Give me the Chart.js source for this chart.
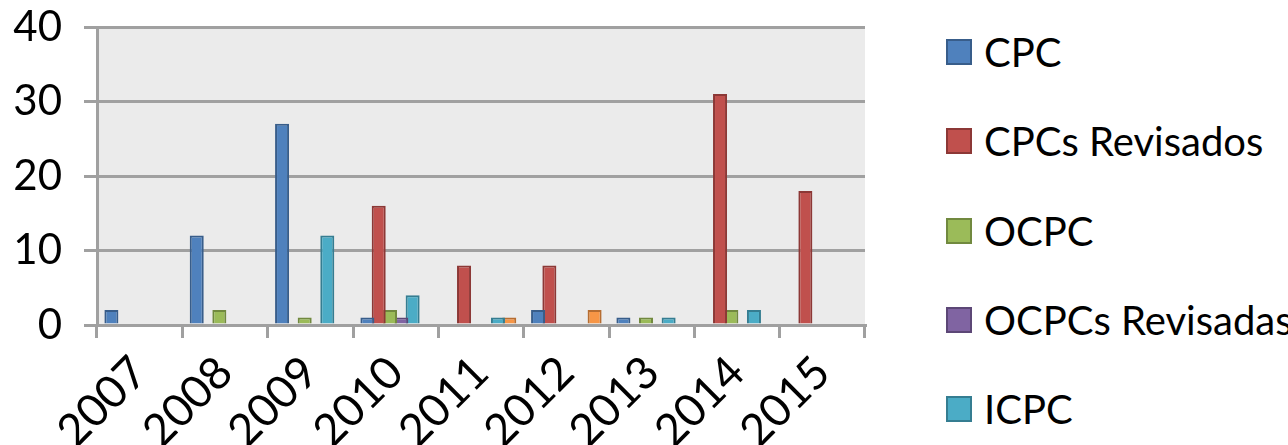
<!DOCTYPE html>
<html>
<head>
<meta charset="utf-8">
<script src="https://cdn.jsdelivr.net/npm/chart.js@4"></script>
<style>
  html, body { margin: 0; padding: 0; background: #fff; }
  #wrap { position: relative; width: 1288px; height: 445px; overflow: hidden; }
  #chartBox { position: absolute; left: 0; top: 0; width: 880px; height: 445px; }
  #legend { position: absolute; left: 946px; top: 0; font-family: Lato, sans-serif; font-size: 40px; color: #000; }
  .item { position: absolute; left: 0; display: flex; align-items: center; white-space: nowrap; height: 50px; }
  .box { width: 22px; height: 22px; border: 2px solid; margin-right: 12px; }
</style>
</head>
<body>
<div id="wrap">
  <div id="chartBox"><canvas id="mainChart"></canvas></div>
  <div id="legend"></div>
</div>
<script>
// categorias (anos) e séries
const years = ["2007", "2008", "2009", "2010", "2011", "2012", "2013", "2014", "2015"];
const cpc = [2, 12, 27, 1, 0, 2, 1, 0, 0];
const cpcsRevisados = [0, 0, 0, 16, 8, 8, 0, 31, 18];
const ocpc = [0, 2, 1, 2, 0, 0, 1, 2, 0];
const ocpcsRevisadas = [0, 0, 0, 1, 0, 0, 0, 0, 0];
const icpc = [0, 0, 12, 4, 1, 0, 1, 2, 0];
// sexta série (laranja) - a legenda dela está cortada na imagem original
const outros = [0, 0, 0, 0, 1, 2, 0, 0, 0];
const yTicks = [0, 10, 20, 30, 40];

const FONT = "Lato, sans-serif";

function ds(label, data, fill, border, inLegend) {
  return {
    label: label,
    data: data,
    backgroundColor: fill,
    borderColor: border,
    borderWidth: 2,
    categoryPercentage: 0.795,
    barPercentage: 1.24,
    inLegend: inLegend,
  };
}

const datasets = [
  ds("CPC", cpc, "#4F81BD", "#385D8A", true),
  ds("CPCs Revisados", cpcsRevisados, "#C0504D", "#8C3836", true),
  ds("OCPC", ocpc, "#9BBB59", "#71893F", true),
  ds("OCPCs Revisadas", ocpcsRevisadas, "#8064A2", "#5C4776", true),
  ds("ICPC", icpc, "#4BACC6", "#357D91", true),
  ds("Outros", outros, "#F79646", "#B66D31", false),
];

// fundo cinza da área de plotagem
const plotBg = {
  id: "plotBg",
  beforeDraw(chart) {
    const a = chart.chartArea;
    const ctx = chart.ctx;
    ctx.save();
    ctx.fillStyle = "#EBEBEB";
    ctx.fillRect(a.left, a.top, a.right - a.left, a.bottom - a.top);
    ctx.restore();
  },
};

// zera o padding extra que os eixos pedem, para a área ficar onde o layout manda
function noAxisPadding(axis) {
  axis.paddingTop = 0;
  axis.paddingBottom = 0;
  axis.paddingLeft = 0;
  axis.paddingRight = 0;
}

const ctx = document.getElementById("mainChart").getContext("2d");
new Chart(ctx, {
  type: "bar",
  data: { labels: years, datasets: datasets },
  options: {
    responsive: true,
    maintainAspectRatio: false,
    animation: false,
    layout: { padding: { top: 27, right: 15, bottom: 0, left: 0 } },
    plugins: {
      tooltip: { enabled: false },
      legend: { display: false },
    },
    scales: {
      x: {
        afterFit: (axis) => {
          axis.height = 120;
          noAxisPadding(axis);
        },
        grid: {
          offset: true,
          drawOnChartArea: false,
          drawTicks: true,
          tickLength: 13,
          color: "#A0A0A0",
          lineWidth: 3,
        },
        border: { color: "#A0A0A0", width: 3 },
        ticks: {
          font: { family: FONT, size: 45 },
          color: "#000",
          maxRotation: 45,
          minRotation: 45,
          padding: 8,
        },
      },
      y: {
        min: 0,
        max: 40,
        afterFit: (axis) => {
          axis.width = 97;
          noAxisPadding(axis);
        },
        afterBuildTicks: (axis) => {
          axis.ticks = yTicks.map((v) => ({ value: v }));
        },
        grid: {
          color: "#A0A0A0",
          lineWidth: 3,
          tickLength: 13,
        },
        border: { color: "#A0A0A0", width: 3 },
        ticks: {
          font: { family: FONT, size: 42 },
          color: "#000",
          padding: 22,
        },
      },
    },
  },
  plugins: [plotBg],
});

// legenda em HTML (5 entradas visíveis como no original)
const legend = document.getElementById("legend");
datasets.filter((d) => d.inLegend).forEach((d, i) => {
  const el = document.createElement("div");
  el.className = "item";
  el.style.top = (52 + i * 89.3 - 25) + "px";
  el.innerHTML = `<span class="box" style="background:${d.backgroundColor};border-color:${d.borderColor}"></span>${d.label}`;
  legend.appendChild(el);
});
</script>
</body>
</html>
